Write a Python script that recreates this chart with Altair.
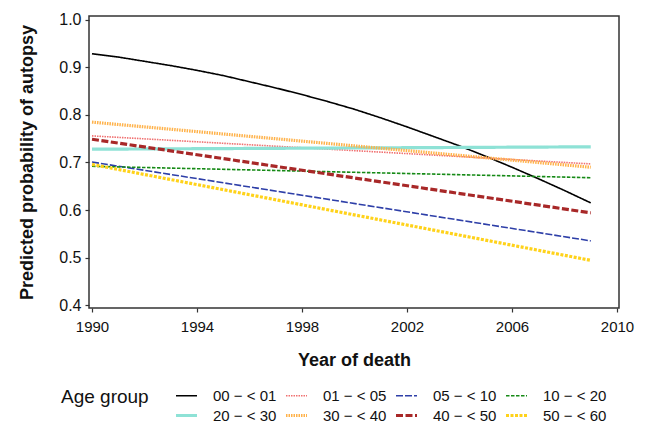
import altair as alt
import pandas as pd

groups = ["00 \u2212 < 01", "01 \u2212 < 05", "05 \u2212 < 10", "10 \u2212 < 20",
          "20 \u2212 < 30", "30 \u2212 < 40", "40 \u2212 < 50", "50 \u2212 < 60"]

black_years = list(range(1990, 2010))
black_values = [0.929, 0.922, 0.913, 0.904, 0.894, 0.883, 0.870, 0.857, 0.843, 0.828,
                0.812, 0.794, 0.775, 0.755, 0.735, 0.713, 0.690, 0.666, 0.641, 0.615]

line_years = [1990, 2009]
g01_05 = [0.756, 0.697]
g05_10 = [0.701, 0.535]
g10_20 = [0.692, 0.668]
g20_30 = [0.728, 0.733]
g30_40 = [0.785, 0.690]
g40_50 = [0.749, 0.594]
g50_60 = [0.696, 0.494]

colors = ["#000000", "#F07070", "#2E3FA8", "#168A16", "#8EE2D6", "#FFB24A", "#A82828", "#FFD21A"]
dashes = [[1, 0], [1.5, 1], [7, 2], [3.5, 1.5], [1, 0], [1.5, 1], [7, 2.5], [3, 1.5]]
widths = [1.6, 1.6, 1.6, 1.6, 3.2, 3.2, 3.2, 3.2]

rows = []
for y, v in zip(black_years, black_values):
    rows.append({"year": y, "p": v, "group": groups[0]})
for g, vals in zip(groups[1:], [g01_05, g05_10, g10_20, g20_30, g30_40, g40_50, g50_60]):
    for y, v in zip(line_years, vals):
        rows.append({"year": y, "p": v, "group": g})
df = pd.DataFrame(rows)

legend = alt.Legend(
    title="Age group", orient="none", legendX=-28, legendY=372, columns=4,
    direction="horizontal", clipHeight=15,
    titleOrient="left", titleAnchor="start", titleBaseline="top",
    titleFontSize=19, titleFontWeight="normal", titleColor="#111",
    titlePadding=25, labelFontSize=15, labelColor="#111", symbolType="stroke",
    symbolSize=441, labelOffset=14, columnPadding=7, rowPadding=4,
    titleFont="Liberation Sans", labelFont="Liberation Sans",
)

chart = alt.Chart(df).mark_line().encode(
    x=alt.X("year:Q", scale=alt.Scale(domain=[1989.886, 2010.076], nice=False, zero=False),
            axis=alt.Axis(values=[1990, 1994, 1998, 2002, 2006, 2010], format="d",
                          title="Year of death")),
    y=alt.Y("p:Q", scale=alt.Scale(domain=[0.3937, 1.0084], nice=False, zero=False),
            axis=alt.Axis(values=[0.4, 0.5, 0.6, 0.7, 0.8, 0.9, 1.0], format=".1f",
                          title="Predicted probability of autopsy")),
    color=alt.Color("group:O", sort=groups, scale=alt.Scale(domain=groups, range=colors), legend=legend),
    strokeDash=alt.StrokeDash("group:O", sort=groups, scale=alt.Scale(domain=groups, range=dashes), legend=legend),
    strokeWidth=alt.StrokeWidth("group:O", sort=groups, scale=alt.Scale(type="ordinal", domain=groups, range=widths), legend=legend),
    order=alt.Order("year:Q"),
).properties(
    width=530, height=292,
    autosize=alt.AutoSizeParams(type="none"),
    padding={"left": 81, "top": 8, "right": 19, "bottom": 114},
).configure_view(
    stroke="#333", strokeWidth=1.5
).configure_axis(
    domain=False, grid=False, tickColor="#333", tickSize=4, tickWidth=1.2,
    labelFont="Liberation Sans", titleFont="Liberation Sans", labelColor="#111",
    titleColor="#111", titleFontWeight="bold", titleFontSize=18,
).configure_axisX(
    labelFontSize=15, labelPadding=7, titlePadding=17,
).configure_axisY(
    labelFontSize=16, labelPadding=4, titlePadding=22,
)

chart.save("out.html", embed_options={"renderer": "svg", "actions": False})
